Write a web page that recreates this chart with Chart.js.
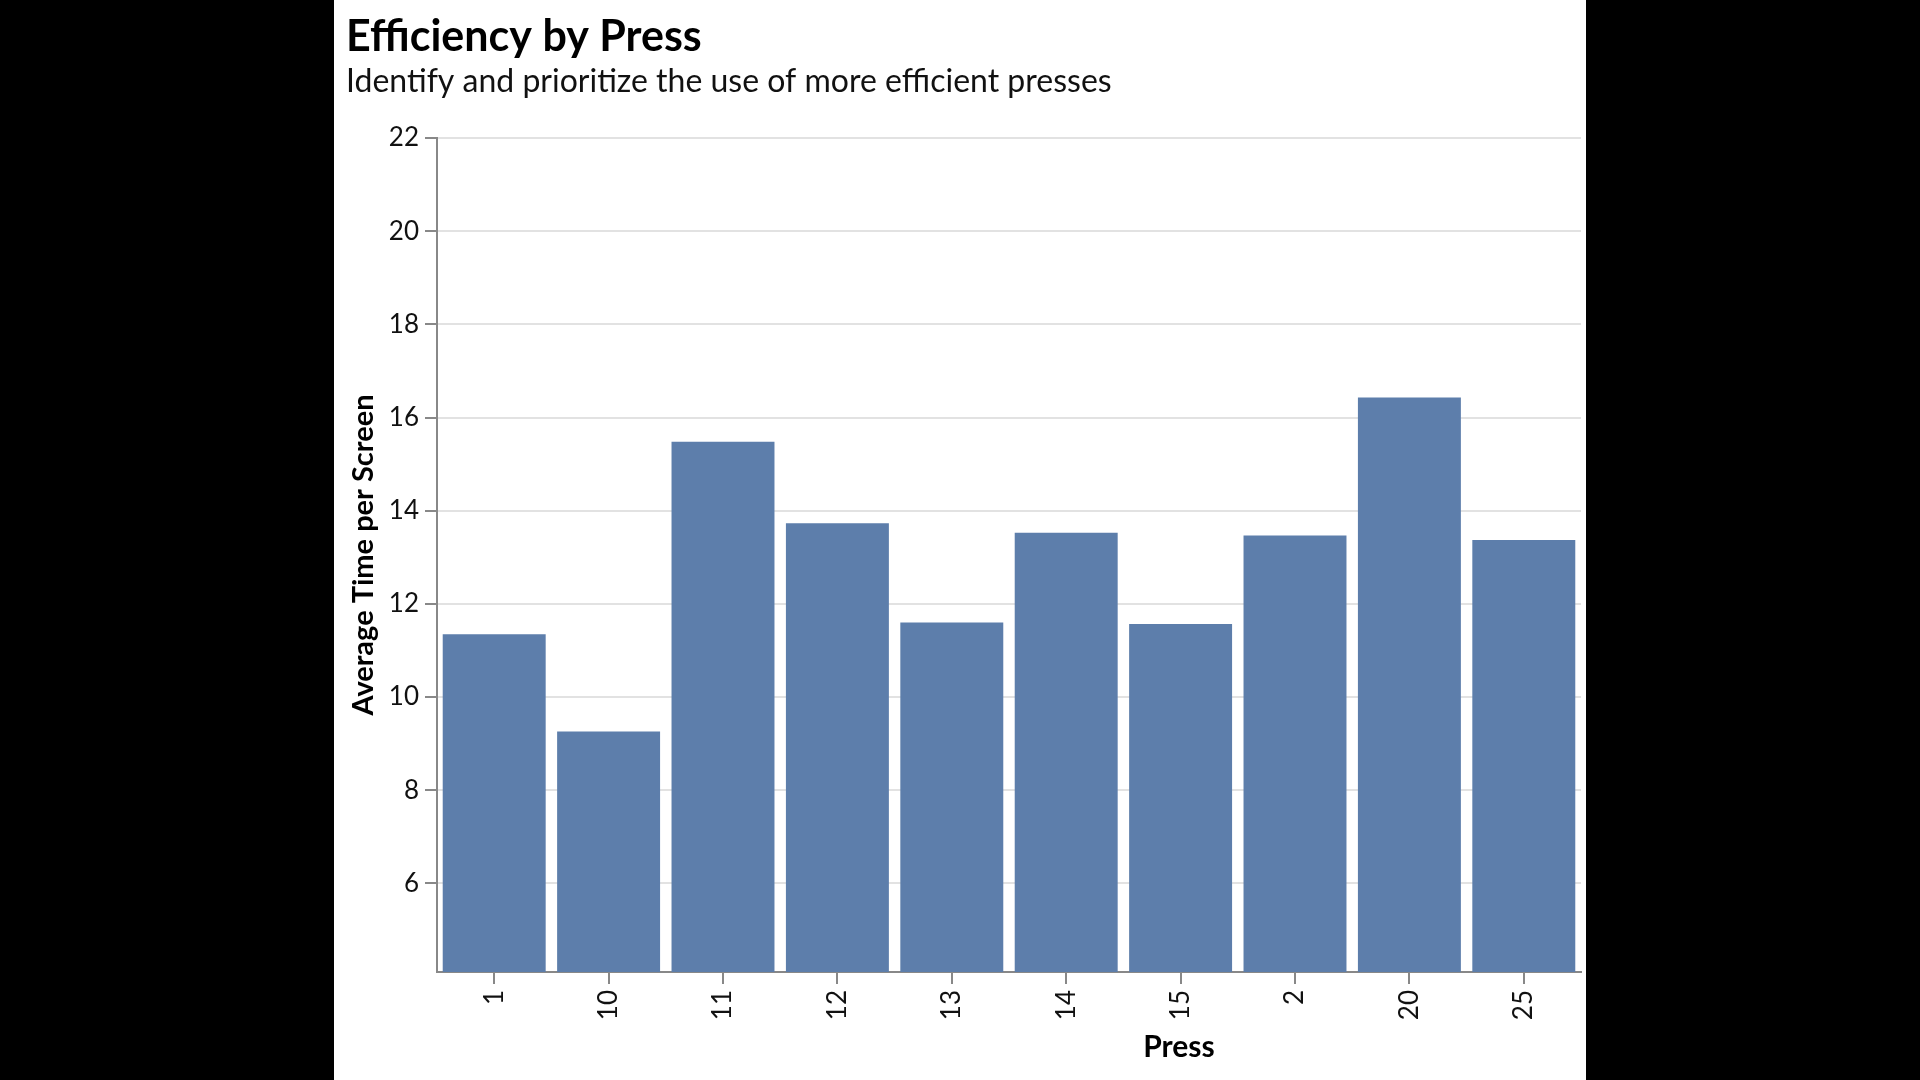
<!DOCTYPE html>
<html>
<head>
<meta charset="utf-8">
<script src="https://cdn.jsdelivr.net/npm/chart.js@4.4.1/dist/chart.umd.min.js"></script>
<style>
  html, body { margin: 0; padding: 0; background: #000; }
  body { width: 1920px; height: 1080px; position: relative; overflow: hidden; }
  #panel { position: absolute; left: 334px; top: 0; width: 1252px; height: 1080px; background: #fff; }
  #xTitle {
    position: absolute; left: 845px; top: 1045px; transform: translate(-50%, -50%);
    font-family: Lato, sans-serif; font-weight: bold; font-size: 30px; color: #000;
  }
</style>
</head>
<body>
<div id="panel">
  <canvas id="pressChart" width="1252" height="1080"></canvas>
  <div id="xTitle">Press</div>
</div>
<script>
// Press ids, in the order shown on the axis
const presses = ['1', '10', '11', '12', '13', '14', '15', '2', '20', '25'];
// Average time per screen for each press
const avgTime = [11.35, 9.26, 15.48, 13.73, 11.6, 13.53, 11.57, 13.47, 16.43, 13.37];
// y axis tick values
const yTicks = [6, 8, 10, 12, 14, 16, 18, 20, 22];
const yMin = 4.1;
const yMax = 22;

const font = 'Lato, "Open Sans", sans-serif';
const axisGray = '#888888';

new Chart(document.getElementById('pressChart'), {
  type: 'bar',
  data: {
    labels: presses,
    datasets: [{
      label: 'Average Time per Screen',
      data: avgTime,
      backgroundColor: '#5d7eab',
      borderWidth: 0,
      categoryPercentage: 0.9,
      barPercentage: 1.0
    }]
  },
  options: {
    responsive: false,
    animation: false,
    layout: { padding: { left: 12, right: 5, top: 0, bottom: 0 } },
    plugins: {
      legend: { display: false },
      tooltip: { enabled: false },
      title: {
        display: true,
        text: 'Efficiency by Press',
        align: 'start',
        color: '#000',
        font: { family: font, size: 43, weight: 'bold', lineHeight: 1.2 },
        padding: { top: 11, bottom: 0 }
      },
      subtitle: {
        display: true,
        text: 'Identify and prioritize the use of more efficient presses',
        align: 'start',
        color: '#111',
        font: { family: font, size: 32, lineHeight: 1.2 },
        padding: { top: 0, bottom: 37 }
      }
    },
    scales: {
      x: {
        grid: {
          drawOnChartArea: false,
          offset: false,
          tickLength: 12,
          tickColor: axisGray,
          lineWidth: 2
        },
        border: { color: axisGray, width: 2 },
        ticks: {
          color: '#111',
          font: { family: font, size: 26 },
          maxRotation: 90,
          minRotation: 90,
          padding: 6
        },
        afterFit: scale => { scale.height = 108; }
      },
      y: {
        min: yMin,
        max: yMax,
        afterBuildTicks: scale => { scale.ticks = yTicks.map(v => ({ value: v })); },
        grid: {
          color: '#e2e2e2',
          lineWidth: 2,
          tickLength: 12,
          tickColor: axisGray
        },
        border: { color: axisGray, width: 2 },
        ticks: {
          color: '#111',
          font: { family: font, size: 26 },
          padding: 6
        },
        title: {
          display: true,
          text: 'Average Time per Screen',
          color: '#000',
          font: { family: font, size: 29, weight: 'bold', lineHeight: 1.2 },
          padding: { top: 0, bottom: 0 }
        },
        afterFit: scale => { scale.width = 91; }
      }
    }
  }
});
</script>
</body>
</html>
